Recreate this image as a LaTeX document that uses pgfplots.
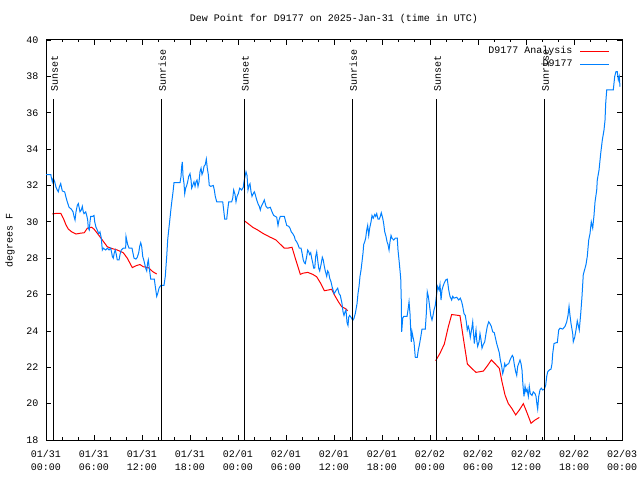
\documentclass[border=0pt]{standalone}
\usepackage{fontspec}
\setmainfont{Liberation Mono}
\usepackage{pgfplots}
\pgfplotsset{compat=1.18}
\definecolor{obsblue}{RGB}{0,128,255}
\definecolor{anared}{RGB}{255,0,0}
\begin{document}
\begin{tikzpicture}[font=\fontsize{10bp}{12bp}\selectfont]
\path[use as bounding box] (0,0) rectangle (640bp,480bp);
\begin{axis}[
  at={(46bp,40bp)}, anchor=south west,
  scale only axis, width=576bp, height=400bp,
  xmin=0, xmax=72, ymin=18, ymax=40,
  xtick={0,6,...,72}, minor x tick num=2,
  ytick={18,20,...,40},
  xticklabels={{01/31\\00:00},{01/31\\06:00},{01/31\\12:00},{01/31\\18:00},{02/01\\00:00},{02/01\\06:00},{02/01\\12:00},{02/01\\18:00},{02/02\\00:00},{02/02\\06:00},{02/02\\12:00},{02/02\\18:00},{02/03\\00:00}},
  xticklabel style={align=center, font=\fontsize{10bp}{12.7bp}\selectfont, yshift=-7bp},
  yticklabel style={xshift=-4bp},
  /pgf/number format/assume math mode=true,
  tick align=inside,
  major tick length=5bp, minor tick length=2.5bp,
  tick style={black, line width=0.8bp},
  axis line style={line width=1bp},
  title={Dew Point for D9177 on 2025-Jan-31 (time in UTC)},
  title style={at={(0.5,1)}, anchor=center, yshift=15bp},
  ylabel={degrees F},
  ylabel style={at={(axis description cs:-0.0625,0.5)}, anchor=center},
  unbounded coords=jump,
  legend plot pos=right,
  legend cell align=right,
  legend image code/.code={\draw[#1, line width=1.2bp] (0bp,0bp) -- (29bp,0bp);},
  legend style={draw=none, fill=none, at={(rel axis cs:0.979,0.986)}, anchor=north east,
    inner sep=0pt, column sep=7bp, row sep=2bp,
    nodes={inner sep=0pt, text height=8bp, text depth=3bp}},
]
\addplot[anared, line width=1bp] coordinates {
(0.79,30.43)(1.34,30.47)(1.84,30.47)(2.16,30.2)(2.5,29.83)(2.79,29.6)(3.21,29.45)(3.75,29.33)(4.25,29.37)(4.79,29.4)(5.17,29.65)(5.71,29.7)(6.0,29.6)(6.41,29.37)(7.04,29.0)(7.66,28.63)(8.09,28.55)(8.91,28.45)(9.66,28.3)(10.16,28.0)(10.79,27.48)(11.34,27.6)(11.75,27.65)(12.16,27.53)(12.79,27.48)(13.34,27.26)(13.84,27.13)
(14,nan)
(24.75,30.07)(25.21,29.92)(25.84,29.7)(26.46,29.55)(27.09,29.37)(27.91,29.18)(28.75,29.0)(29.16,28.82)(29.79,28.55)(30.21,28.55)(30.75,28.6)(31.16,28.0)(31.79,27.11)(32.09,27.17)(32.71,27.22)(33.34,27.11)(33.83,26.98)(34.33,26.62)(34.79,26.21)(35.29,26.25)(35.71,26.29)(36.13,25.92)(36.54,25.61)(36.96,25.33)(37.38,25.24)(37.71,25.11)
(38,nan)
(48.71,22.36)(49.25,22.77)(49.79,23.28)(50.29,24.23)(50.71,24.9)(51.25,24.87)(51.75,24.84)(52.17,23.59)(52.67,22.18)(53.21,21.94)(53.75,21.72)(54.67,21.79)(55.17,22.08)(55.67,22.4)(56.17,22.18)(56.67,21.94)(57.0,21.2)(57.38,20.47)(57.79,20.0)(58.21,19.75)(58.71,19.38)(59.17,19.65)(59.67,20.0)(60.08,19.55)(60.63,18.92)(61.13,19.1)(61.67,19.24)
};
\addlegendentry{D9177 Analysis}
\addplot[obsblue, line width=1bp] coordinates {
(0,32.6)(0.6,32.6)(0.66,32.45)(0.79,32.2)(0.91,32.4)(1.09,32.2)(1.25,31.9)(1.41,31.75)(1.54,31.65)(1.66,31.9)(1.84,32.1)(1.96,31.85)(2.04,31.7)(2.34,31.64)(2.5,31.35)(2.66,31.1)(2.88,30.8)(3.16,30.7)(3.38,30.55)(3.5,30.3)(3.63,30.1)(3.75,30.55)(3.91,30.9)(4.04,31.0)(4.16,30.75)(4.25,30.55)(4.41,30.65)(4.54,30.85)(4.66,30.55)(4.75,30.45)(4.96,30.55)(5.09,30.35)(5.21,30.1)(5.29,29.65)(5.41,29.55)(5.5,30.0)(5.59,30.3)(5.84,30.3)(6.0,30.35)(6.09,30.0)(6.25,29.7)(6.41,29.55)(6.59,29.35)(6.75,29.45)(6.91,29.1)(7.04,28.45)(7.16,28.55)(7.46,28.45)(7.66,28.55)(7.88,28.45)(8.09,28.55)(8.21,28.3)(8.29,28.1)(8.41,28.0)(8.54,28.3)(8.66,28.45)(8.79,28.2)(8.91,27.9)(9.13,27.9)(9.25,28.2)(9.41,28.45)(9.66,28.55)(9.96,28.55)(10.0,29.2)(10.09,29.0)(10.21,28.75)(10.38,28.55)(10.75,28.55)(10.84,28.35)(11.0,28.0)(11.25,27.95)(11.41,28.05)(11.59,28.3)(11.71,28.65)(11.84,28.85)(11.96,28.65)(12.09,28.1)(12.25,27.85)(12.38,27.6)(12.46,27.45)(12.59,27.3)(12.71,27.75)(12.79,27.9)(12.91,27.45)(13.09,26.85)(13.54,26.85)(13.66,26.45)(13.84,25.9)(13.96,26.05)(14.13,26.35)(14.34,26.5)(14.75,26.5)(14.91,27.0)(15.09,28.1)(15.21,29.0)(15.34,29.55)(15.5,30.2)(15.63,30.75)(15.75,31.2)(15.88,31.65)(16.0,32.15)(16.75,32.15)(16.88,32.5)(16.96,33.05)(17.04,33.3)(17.13,32.5)(17.25,32.1)(17.34,31.55)(17.46,31.85)(17.59,32.0)(17.71,32.2)(17.84,32.5)(18.0,32.65)(18.13,32.3)(18.21,31.85)(18.34,32.0)(18.5,32.2)(18.63,31.95)(18.75,32.2)(18.88,32.3)(19.0,31.95)(19.13,32.2)(19.25,32.75)(19.38,32.95)(19.5,32.6)(19.63,32.75)(19.75,33.05)(19.91,33.15)(20.04,33.45)(20.16,32.95)(20.29,32.6)(20.41,32.0)(20.59,31.95)(20.91,32.0)(21.04,31.75)(21.16,31.4)(21.34,31.1)(22.09,31.1)(22.21,30.65)(22.34,30.15)(22.59,30.15)(22.71,30.65)(22.84,31.1)(23.21,31.1)(23.34,31.3)(23.46,31.75)(23.63,31.5)(23.75,31.1)(23.88,31.4)(24.04,31.55)(24.21,31.85)(24.46,31.75)(24.66,31.9)(24.75,32.2)(24.88,32.5)(25.0,32.75)(25.13,32.55)(25.25,31.75)(25.38,32.0)(25.5,32.1)(25.63,31.65)(25.75,31.4)(25.91,31.55)(26.04,31.65)(26.16,31.5)(26.34,31.2)(26.5,31.0)(26.66,30.85)(26.79,30.65)(26.91,30.85)(27.09,31.0)(27.29,31.2)(27.5,30.85)(27.71,30.75)(28.04,30.8)(28.25,30.55)(28.46,30.35)(28.66,30.3)(28.84,30.25)(29.0,29.8)(29.13,30.1)(29.29,30.3)(29.79,30.3)(29.91,30.1)(30.09,29.8)(30.34,29.75)(30.5,29.65)(30.66,29.45)(30.84,29.35)(31.04,29.2)(31.16,29.0)(31.34,28.9)(31.5,28.75)(31.66,28.55)(31.88,28.55)(32.0,28.3)(32.16,27.9)(32.29,27.75)(32.41,27.7)(32.59,28.1)(32.71,28.45)(32.84,28.35)(32.96,28.2)(33.09,28.3)(33.21,28.0)(33.34,27.75)(33.46,27.45)(33.59,27.45)(33.71,28.1)(33.84,28.35)(33.96,27.9)(34.09,27.45)(34.21,27.3)(34.38,27.65)(34.54,28.05)(34.66,27.9)(34.79,27.55)(34.91,27.3)(35.09,27.0)(35.21,27.3)(35.34,27.2)(35.46,26.9)(35.63,26.7)(35.75,26.45)(35.88,26.25)(36.0,26.05)(36.16,26.15)(36.29,26.25)(36.46,26.35)(36.63,26.05)(36.79,25.95)(37.0,25.5)(37.13,25.05)(37.25,24.85)(37.38,25.05)(37.5,25.15)(37.63,24.45)(37.75,24.3)(37.84,24.75)(37.96,24.85)(38.13,24.75)(38.25,24.65)(38.38,24.6)(38.5,24.7)(38.66,24.95)(38.88,25.5)(39.0,26.05)(39.13,26.45)(39.25,27.0)(39.38,27.35)(39.5,27.8)(39.63,28.3)(39.71,28.75)(39.84,28.9)(39.96,29.1)(40.09,29.55)(40.21,29.8)(40.34,29.25)(40.46,29.65)(40.63,30.0)(40.75,30.35)(40.91,30.2)(41.09,30.4)(41.21,30.3)(41.34,30.45)(41.5,30.15)(41.66,30.15)(41.79,30.3)(41.91,30.5)(42.09,30.2)(42.21,29.9)(42.34,29.45)(42.5,29.2)(42.63,28.9)(42.75,28.75)(42.88,28.45)(43.0,28.9)(43.13,29.25)(43.25,29.1)(43.46,29.0)(43.66,29.1)(43.91,29.1)(44.0,28.45)(44.16,27.75)(44.34,26.9)(44.41,25.7)(44.46,23.95)(44.59,24.7)(44.71,24.8)(45.13,24.8)(45.25,25.15)(45.38,25.6)(45.5,24.95)(45.59,24.05)(45.66,23.4)(45.75,23.95)(45.88,23.65)(46.0,23.4)(46.16,22.55)(46.41,22.55)(46.54,22.95)(46.66,23.2)(46.84,23.65)(47.0,24.1)(47.41,24.1)(47.54,24.95)(47.66,26.15)(47.79,25.9)(47.91,25.5)(48.09,24.85)(48.25,24.6)(48.38,24.85)(48.5,25.15)(48.66,25.4)(48.84,26.05)(48.96,26.45)(49.13,26.25)(49.25,26.55)(49.38,25.7)(49.5,26.25)(49.63,26.45)(49.75,26.6)(49.96,26.8)(50.16,26.85)(50.34,26.25)(50.5,25.9)(50.71,25.7)(50.84,25.9)(51.0,25.8)(51.34,25.85)(51.59,25.7)(51.79,25.8)(51.96,25.6)(52.09,25.35)(52.25,24.95)(52.41,24.85)(52.54,24.5)(52.66,24.05)(52.79,24.25)(52.91,24.05)(53.04,23.65)(53.21,24.1)(53.34,24.5)(53.41,24.05)(53.54,23.3)(53.63,23.65)(53.75,24.05)(53.84,23.5)(53.96,23.15)(54.13,23.4)(54.25,23.85)(54.38,23.5)(54.5,23.05)(54.66,23.25)(54.84,23.4)(55.0,23.85)(55.16,24.25)(55.34,24.5)(55.5,24.4)(55.66,24.25)(55.84,23.95)(56.04,23.9)(56.16,23.65)(56.34,23.3)(56.5,23.05)(56.66,22.8)(56.79,22.4)(56.96,22.05)(57.09,21.65)(57.21,21.85)(57.34,22.2)(57.46,22.05)(57.63,22.15)(57.84,22.2)(58.0,22.4)(58.16,22.55)(58.29,22.65)(58.41,22.55)(58.54,22.15)(58.71,21.75)(58.84,21.55)(58.96,22.05)(59.09,22.2)(59.25,22.4)(59.38,22.2)(59.5,21.85)(59.63,20.95)(59.75,20.4)(59.88,20.95)(60.0,20.65)(60.13,20.8)(60.29,20.4)(60.41,20.95)(60.54,20.55)(60.75,20.45)(60.91,20.65)(61.13,20.55)(61.25,20.4)(61.38,19.93)(61.46,19.7)(61.59,20.4)(61.75,20.75)(61.91,20.85)(62.09,20.75)(62.29,20.8)(62.46,21.0)(62.59,21.5)(62.71,21.75)(62.91,21.85)(63.13,21.9)(63.25,22.2)(63.34,22.75)(63.5,23.3)(63.75,23.35)(63.91,23.35)(64.09,24.05)(64.25,24.15)(64.59,24.1)(64.88,24.25)(65.09,24.5)(65.25,24.85)(65.38,25.35)(65.5,24.85)(65.63,24.4)(65.84,23.85)(65.91,23.4)(66.09,23.65)(66.25,24.05)(66.41,24.55)(66.54,24.3)(66.66,24.05)(66.84,24.95)(67.0,25.9)(67.16,27.1)(67.38,27.45)(67.5,27.65)(67.66,28.1)(67.84,29.0)(68.0,29.35)(68.16,30.0)(68.34,29.65)(68.5,30.35)(68.63,31.1)(68.84,31.75)(68.91,32.3)(69.13,32.85)(69.34,33.77)(69.54,34.5)(69.75,35.05)(69.88,35.6)(69.96,36.5)(70.09,37.25)(70.91,37.25)(71.09,38.0)(71.25,38.26)(71.41,38.26)(71.54,37.8)(71.66,38.0)(71.75,37.43)
};
\addlegendentry{D9177}
\foreach \h/\lab in {0.91/Sunset,14.41/Sunrise,24.75/Sunset,38.29/Sunrise,48.79/Sunset,62.29/Sunrise}{
  \edef\tmp{\noexpand\draw[black, line width=1bp] (axis cs:\h,18) -- (axis cs:\h,36.75);
    \noexpand\node[rotate=90, anchor=base west, inner sep=0pt, yshift=-4.5bp] at (axis cs:\h,37.14) {\lab};}
  \tmp
}
\end{axis}
\end{tikzpicture}
\end{document}
